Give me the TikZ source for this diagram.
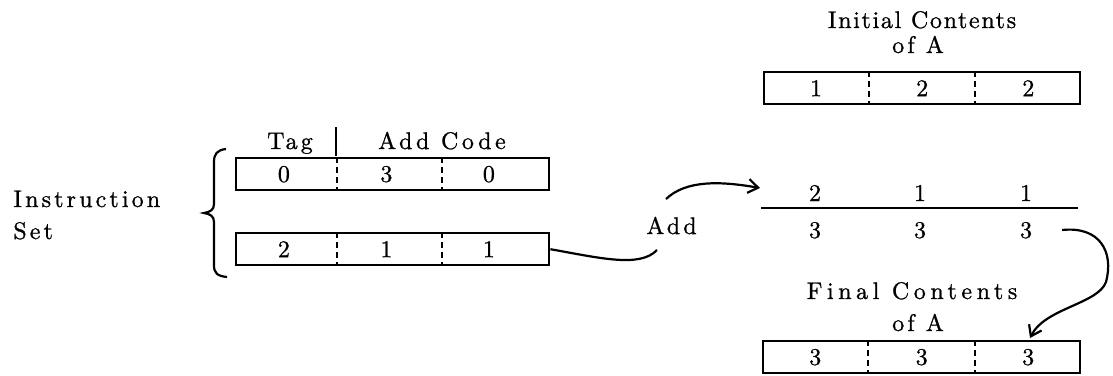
\documentclass[tikz,border=0pt]{standalone}
\usepackage{fontspec}
\newfontfamily\lsN[LetterSpace=13,FakeBold=0.9]{lmroman10-regular.otf}
\newfontfamily\lsC[LetterSpace=15,FakeBold=0.9]{lmroman10-regular.otf}
\newfontfamily\lsI[LetterSpace=7,FakeBold=0.9]{lmroman10-regular.otf}
\newfontfamily\lsF[LetterSpace=19,FakeBold=0.9]{lmroman10-regular.otf}
\newfontfamily\lsD[FakeBold=0.9]{lmroman10-regular.otf}
\usetikzlibrary{arrows.meta,calc}
\begin{document}
\begin{tikzpicture}[x=0.5pt,y=-0.5pt,
  every node/.style={inner sep=0pt},
  txt/.style={font=\lsN\fontsize{12}{14}\selectfont, anchor=base},
  reg/.style={draw, line width=1.2pt, minimum width=157.5pt, minimum height=16pt, anchor=north west},
  div/.style={line width=1pt, dash pattern=on 3pt off 2pt},
  dig/.style={font=\lsD\fontsize{12}{14}\selectfont},
  conn/.style={line width=1.1pt},
  tip/.style={-{Straight Barb[length=5pt,width=7pt,line width=1.1pt]}}]
\useasboundingbox (0,0) rectangle (1113,375);

% Instruction set label and brace
\node[txt, anchor=base west] (ins) at (13,207) {Instruction};
\node[txt, anchor=base west] (set) at (13,239) {Set};
\draw[line width=1.1pt] (226,149) .. controls (217,150) and (214,154) .. (214,162) -- (214,204)
  .. controls (214,210) and (210,212) .. (204,213) .. controls (210,214) and (214,216) .. (214,222)
  -- (214,265) .. controls (214,273) and (217,276) .. (227,277);

% header
\node[txt] (tag) at (290,149) {Tag};
\node[txt, font=\lsC\fontsize{12}{14}\selectfont] (addcode) at (442,149) {Add Code};
\coordinate (bartop) at (336,127);
\coordinate (barbot) at (336,156);
\draw[line width=1.1pt] (bartop) -- (barbot);

% instruction registers
\node[reg, minimum width=156.5pt] (b1) at (235,157) {};
\node[reg, minimum width=156.5pt] (b2) at (235,232) {};
\foreach \b in {b1,b2}{
  \draw[div] ($(\b.north west)!0.322!(\b.north east)$) -- ($(\b.south west)!0.322!(\b.south east)$);
  \draw[div] ($(\b.north west)!0.655!(\b.north east)$) -- ($(\b.south west)!0.655!(\b.south east)$);
}
\node[dig] (b1a) at ($(b1.west)!0.155!(b1.east)$) {0};
\node[dig] (b1b) at ($(b1.west)!0.48!(b1.east)$) {3};
\node[dig] (b1c) at ($(b1.west)!0.805!(b1.east)$) {0};
\node[dig] (b2a) at ($(b2.west)!0.155!(b2.east)$) {2};
\node[dig] (b2b) at ($(b2.west)!0.48!(b2.east)$) {1};
\node[dig] (b2c) at ($(b2.west)!0.805!(b2.east)$) {1};

% Add
\node[txt, anchor=base west] (add) at (646,234) {Add};
\coordinate (addin) at (657,250);
\draw[conn] (b2.east) .. controls (600,258) and (640,268) .. (addin);
\coordinate (addout) at (666,199);
\coordinate (sumin) at (760,188);
\draw[conn,tip] (addout) .. controls (686,180) and (720,181) .. (sumin);

% Initial contents
\node[txt, font=\lsI\fontsize{12}{14}\selectfont] (ic1) at (922,28) {Initial Contents};
\node[txt] (ic2) at (918,53) {of A};
\node[reg, minimum width=158pt] (ra) at (763,71) {};
\draw[div] ($(ra.north west)!1/3!(ra.north east)$) -- ($(ra.south west)!1/3!(ra.south east)$);
\draw[div] ($(ra.north west)!2/3!(ra.north east)$) -- ($(ra.south west)!2/3!(ra.south east)$);
\node[dig] (raa) at ($(ra.west)!1/6!(ra.east)$) {1};
\node[dig] (rab) at ($(ra.west)!3/6!(ra.east)$) {2};
\node[dig] (rac) at ($(ra.west)!5/6!(ra.east)$) {2};

% Sum
\node[dig, anchor=base] (s1) at (815,201) {2};
\node[dig, anchor=base] (s2) at (920,201) {1};
\node[dig, anchor=base] (s3) at (1026,201) {1};
\coordinate (sl) at (761,208);
\coordinate (sr) at (1078,208);
\draw[line width=1.1pt] (sl) -- (sr);
\node[dig, anchor=base] (t1) at (815,238) {3};
\node[dig, anchor=base] (t2) at (920,238) {3};
\node[dig, anchor=base] (t3) at (1026,238) {3};
\coordinate (cstart) at (1062,230);
\coordinate (ctip) at (1030,338);
\draw[conn,tip] (cstart) .. controls (1100,226) and (1114,252) .. (1106,282)
  .. controls (1098,304) and (1045,308) .. (ctip);

% Final contents
\node[txt, font=\lsF\fontsize{12}{14}\selectfont] (fc1) at (912,299) {Final Contents};
\node[txt] (fc2) at (918,331) {of A};
\node[reg, minimum width=158.5pt] (rf) at (762,340) {};
\draw[div] ($(rf.north west)!1/3!(rf.north east)$) -- ($(rf.south west)!1/3!(rf.south east)$);
\draw[div] ($(rf.north west)!2/3!(rf.north east)$) -- ($(rf.south west)!2/3!(rf.south east)$);
\node[dig] (rfa) at ($(rf.west)!1/6!(rf.east)$) {3};
\node[dig] (rfb) at ($(rf.west)!3/6!(rf.east)$) {3};
\node[dig] (rfc) at ($(rf.west)!5/6!(rf.east)$) {3};
\end{tikzpicture}
\end{document}
